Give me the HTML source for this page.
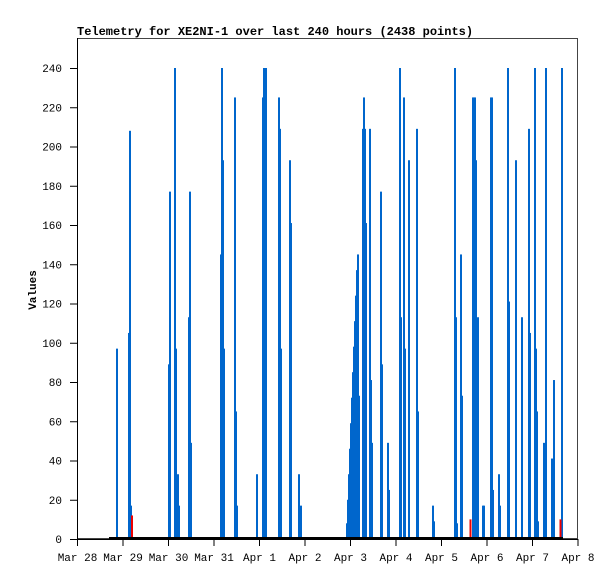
<!DOCTYPE html>
<html><head><meta charset="utf-8"><style>
body{margin:0;background:#fff;width:615px;height:579px;overflow:hidden}
text{font-family:"Liberation Mono","DejaVu Sans Mono",monospace;font-size:11px;fill:#000}
</style></head><body>
<svg id="s" width="615" height="579" xmlns="http://www.w3.org/2000/svg">
<rect x="0" y="0" width="615" height="579" fill="#fff"/>
<text x="77" y="35" style="font-weight:bold;font-size:12px">Telemetry for XE2NI-1 over last 240 hours (2438 points)</text>
<rect x="77.5" y="38.5" width="500" height="500" fill="none" stroke="#444" stroke-width="1"/>
<g id="bars"></g>
<line x1="109" y1="538" x2="563" y2="538" stroke="#000" stroke-width="2"/>
<line x1="77.5" y1="38" x2="77.5" y2="539" stroke="#000"/>
<line x1="70" y1="539.5" x2="578" y2="539.5" stroke="#000"/>
<g id="ax"></g>
<text transform="translate(36,290) rotate(-90)" text-anchor="middle" style="font-weight:bold">Values</text>
</svg>
<script>
var ns="http://www.w3.org/2000/svg";
function el(p,t,a,txt){var e=document.createElementNS(ns,t);for(var k in a)e.setAttribute(k,a[k]);if(txt)e.textContent=txt;p.appendChild(e);return e;}
var ax=document.getElementById('ax'),bars=document.getElementById('bars');
for(var v=0;v<=240;v+=20){var y=539-v*1.9625;el(ax,'line',{x1:70,x2:77,y1:y+.5,y2:y+.5,stroke:'#000'});el(ax,'text',{x:62,y:y+4,'text-anchor':'end'},String(v));}
var labs=['Mar 28','Mar 29','Mar 30','Mar 31','Apr 1','Apr 2','Apr 3','Apr 4','Apr 5','Apr 6','Apr 7','Apr 8'];
for(var i=0;i<12;i++){var x=77.5+i*45.5;el(ax,'line',{x1:x,x2:x,y1:539,y2:546,stroke:'#000'});el(ax,'text',{x:x,y:561,'text-anchor':'middle'},labs[i]);}
var d=[[116,97],[128,105],[129,208],[130,17],[168,89],[169,177],[174,240],[175,97],[177,33],[178,17],[188,113],[189,177],[190,49],
[220,145],[221,240],[222,193],[223,97],[234,225],[235,65],[236,17],[256,33],[262,225],[263,240],[264,240],[265,240],[278,225],[279,209],[280,97],[289,193],[290,161],[298,33],[300,17],
[346,8],[347,20],[348,33],[349,46],[350,59],[351,72],[352,85],[353,98],[354,111],[355,124],[356,137],[357,145],[358,73],[362,209],[363,225],[364,209],[365,161],[369,209],[370,81],[371,49],[380,177],[381,89],[387,49],[388,25],
[399,240],[400,113],[403,225],[404,97],[408,193],[416,209],[417,65],[432,17],[433,9],
[454,240],[455,113],[456,8],[460,145],[461,73],[472,225],[473,225],[474,225],[475,193],[476,65],[477,113],[482,17],[483,17],[490,225],[491,225],[492,25],[498,33],[499,17],[507,240],[508,121],[515,193],[521,113],[528,209],[529,105],[534,240],[535,97],[536,65],[537,9],[543,49],[545,240],[551,41],[553,81],[561,240]];
d.forEach(function(b){var h=b[1]*1.9625;el(bars,'rect',{x:b[0],y:539-h,width:2,height:h,fill:'#0066cc'});});
[[131,12],[469.5,10],[559.5,10]].forEach(function(b){var h=b[1]*1.9625;el(bars,'rect',{x:b[0],y:539-h,width:2,height:h,fill:'#ee0000'});});
</script>
</body></html>
